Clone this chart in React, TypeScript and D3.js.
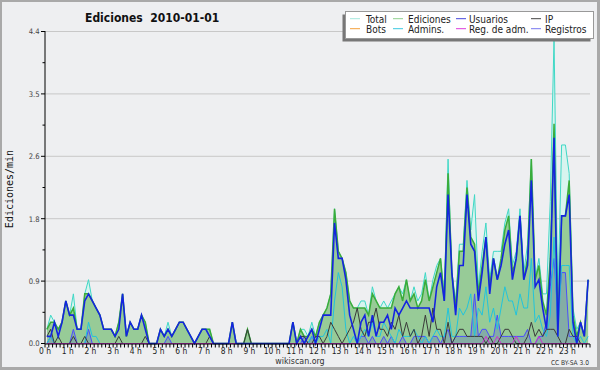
import React from 'react';
import * as d3 from 'd3';

// 10-minute bins, values in edits/min
const usuarios = [
  0.1, 0.1, 0.3, 0.1, 0.3, 0.6, // 0h
  0.4, 0.4, 0.2, 0.2, 0.6, 0.7, // 1h
  0.6, 0.5, 0.4, 0.2, 0.2, 0.2, // 2h
  0.1, 0.2, 0.7, 0.1, 0.3, 0.2, // 3h
  0.2, 0.4, 0.2, 0, 0, 0, // 4h
  0.2, 0.1, 0.2, 0.1, 0.2, 0.3, // 5h
  0.3, 0.2, 0.1, 0, 0.1, 0.2, // 6h
  0.2, 0.1, 0, 0, 0, 0, // 7h
  0, 0.3, 0, 0, 0, 0, // 8h
  0, 0, 0, 0, 0, 0, // 9h
  0, 0, 0, 0, 0, 0.3, // 10h
  0, 0.1, 0, 0.1, 0.2, 0, // 11h
  0.2, 0.4, 0.4, 0.4, 1.7, 1.2, // 12h
  1.2, 0.9, 0.4, 0.2, 0, 0.3, // 13h
  0.4, 0.1, 0.4, 0.1, 0.3, 0.3, // 14h
  0.4, 0.2, 0.5, 0.4, 0.5, 0.6, // 15h
  0.5, 0.5, 0.5, 0.5, 0.5, 0.5, // 16h
  0.3, 0.8, 1.0, 0.6, 2.1, 1.0, // 17h
  0.4, 1.1, 1.1, 2.1, 1.4, 1.3, // 18h
  0.6, 1.0, 1.5, 0.7, 1.2, 0.9, // 19h
  1.1, 1.4, 1.6, 0.9, 1.2, 1.8, // 20h
  0.9, 1.1, 2.3, 0.8, 0.9, 0.5, // 21h
  0.2, 1.0, 2.9, 0.1, 1.8, 1.8, // 22h
  2.1, 0.3, 0, 0.3, 0.1, 0.9 // 23h
];

const ip = [
  0.1, 0.2, 0, 0.1, 0, 0,
  0, 0.1, 0, 0, 0.1, 0,
  0, 0, 0, 0, 0, 0,
  0, 0.1, 0, 0, 0, 0,
  0, 0, 0.1, 0, 0, 0,
  0, 0, 0, 0, 0, 0,
  0, 0, 0, 0, 0, 0,
  0, 0.1, 0, 0, 0, 0,
  0, 0, 0, 0, 0, 0.2,
  0, 0, 0, 0, 0, 0,
  0, 0, 0, 0, 0, 0,
  0, 0.1, 0.1, 0, 0, 0.1,
  0.1, 0, 0.1, 0.3, 0.2, 0.1,
  0, 0.1, 0.2, 0.3, 0.5, 0.2,
  0.1, 0.3, 0.3, 0.5, 0.2, 0.2,
  0.1, 0.3, 0.2, 0.4, 0.1, 0.3,
  0.1, 0.2, 0, 0.1, 0.4, 0.1,
  0.5, 0.2, 0.2, 0, 0.3, 0,
  0.1, 0.2, 0.2, 0.1, 0.1, 0.1,
  0.1, 0.1, 0, 0.1, 0, 0,
  0.1, 0.2, 0.2, 0.1, 0, 0,
  0, 0.1, 0.3, 0.1, 0.2, 0.1,
  0.2, 0.2, 0.2, 0.1, 0, 0,
  0.2, 0.1, 0.1, 0, 0, 0
];

const ediciones = [
  0.2, 0.3, 0.3, 0.2, 0.3, 0.6,
  0.4, 0.5, 0.2, 0.2, 0.7, 0.7,
  0.6, 0.5, 0.4, 0.2, 0.2, 0.2,
  0.1, 0.3, 0.7, 0.1, 0.3, 0.2,
  0.2, 0.4, 0.3, 0, 0, 0,
  0.2, 0.1, 0.2, 0.1, 0.2, 0.3,
  0.3, 0.2, 0.1, 0, 0.1, 0.2,
  0.2, 0.2, 0, 0, 0, 0,
  0, 0.3, 0, 0, 0, 0.2,
  0, 0, 0, 0, 0, 0,
  0, 0, 0, 0, 0, 0.3,
  0, 0.2, 0.1, 0.1, 0.2, 0.1,
  0.3, 0.4, 0.5, 0.7, 1.9, 1.3,
  1.2, 1.0, 0.6, 0.5, 0.5, 0.5,
  0.5, 0.4, 0.7, 0.6, 0.5, 0.5,
  0.5, 0.5, 0.7, 0.8, 0.6, 0.9,
  0.6, 0.7, 0.5, 0.6, 0.9, 0.6,
  0.8, 1.0, 1.2, 0.6, 2.4, 1.0,
  0.5, 1.3, 1.3, 2.2, 1.5, 1.4,
  0.7, 1.1, 1.5, 0.8, 1.2, 0.9,
  1.2, 1.6, 1.8, 1.0, 1.2, 1.8,
  0.9, 1.2, 2.6, 0.9, 1.1, 0.6,
  0.4, 1.2, 3.1, 0.2, 1.8, 1.8,
  2.3, 0.4, 0.1, 0.3, 0.1, 0.9
];

const registros = [
  0, 0.1, 0, 0, 0, 0,
  0, 0.2, 0, 0, 0, 0.2,
  0, 0, 0, 0, 0, 0,
  0, 0, 0, 0, 0, 0,
  0, 0, 0, 0, 0, 0,
  0, 0, 0.1, 0, 0, 0,
  0, 0, 0, 0, 0, 0,
  0, 0, 0, 0, 0, 0,
  0, 0, 0, 0, 0, 0,
  0, 0, 0, 0, 0, 0,
  0, 0, 0, 0, 0, 0,
  0, 0, 0.1, 0, 0.1, 0,
  0, 0, 0, 0, 0, 0,
  0, 0, 0, 0, 0, 0.1,
  0.1, 0, 0.1, 0, 0, 0.1,
  0, 0.1, 0, 0, 0.1, 0,
  0, 0.1, 0.1, 0.1, 0.1, 0,
  0.1, 0.1, 0, 0.1, 0.2, 0,
  0.1, 0.1, 0.1, 0.1, 0.1, 0.7,
  0.1, 0.2, 0.2, 0.1, 0.1, 0.4,
  0.1, 0.1, 0.1, 0.1, 0.1, 0.1,
  0.1, 0.2, 0, 0, 0.1, 0.1,
  0.3, 0.8, 1.2, 0.4, 1.0, 1.0,
  0.1, 0.1, 0.1, 0, 0, 0
];

const total = [
  0.2, 0.4, 0.3, 0.2, 0.3, 0.6,
  0.4, 0.7, 0.2, 0.2, 0.7, 0.9,
  0.6, 0.5, 0.4, 0.2, 0.2, 0.2,
  0.1, 0.3, 0.7, 0.1, 0.3, 0.2,
  0.2, 0.4, 0.3, 0, 0, 0,
  0.2, 0.1, 0.3, 0.1, 0.2, 0.3,
  0.3, 0.2, 0.1, 0, 0.1, 0.2,
  0.2, 0.2, 0, 0, 0, 0,
  0, 0.3, 0, 0, 0, 0.2,
  0, 0, 0, 0, 0, 0,
  0, 0, 0, 0, 0, 0.3,
  0, 0.2, 0.2, 0.1, 0.3, 0.1,
  0.3, 0.4, 0.5, 0.7, 1.9, 1.3,
  1.2, 1.0, 0.6, 0.5, 0.5, 0.6,
  0.6, 0.4, 0.8, 0.6, 0.5, 0.6,
  0.5, 0.6, 0.7, 0.8, 0.7, 0.9,
  0.6, 0.8, 0.6, 0.7, 1.0, 0.6,
  0.9, 1.1, 1.2, 0.7, 2.6, 1.0,
  0.6, 1.4, 1.4, 2.3, 1.6, 2.1,
  0.8, 1.3, 1.7, 0.9, 1.3, 1.3,
  1.3, 1.7, 1.9, 1.1, 1.3, 1.9,
  1.0, 1.4, 2.6, 0.9, 1.2, 0.7,
  0.7, 2.0, 4.3, 0.6, 2.8, 2.8,
  2.4, 0.5, 0.2, 0.3, 0.1, 0.9
];

const admins = [
  0, 0.1, 0, 0, 0, 0,
  0, 0, 0, 0, 0, 0.3,
  0.1, 0.1, 0, 0, 0, 0,
  0, 0, 0, 0, 0, 0,
  0, 0, 0, 0, 0, 0,
  0, 0, 0, 0, 0, 0,
  0, 0, 0, 0, 0, 0,
  0, 0, 0, 0, 0, 0,
  0, 0, 0, 0, 0, 0,
  0, 0, 0, 0, 0, 0,
  0, 0, 0, 0, 0, 0,
  0, 0, 0, 0, 0.1, 0,
  0.1, 0.1, 0.2, 0, 0.6, 1.0,
  0.8, 0.2, 0, 0.1, 0, 0.1,
  0.2, 0.1, 0.3, 0.1, 0.1, 0.3,
  0.2, 0.1, 0, 0.2, 0.1, 0.1,
  0.1, 0.2, 0.1, 0, 0.1, 0,
  0.1, 0.2, 0.1, 0.1, 0.5, 0.1,
  0.1, 0.5, 0.4, 0.5, 0.7, 0.1,
  0.5, 0.4, 0.8, 0.3, 0.5, 0.2,
  0.5, 0.8, 0.6, 0.6, 0.4, 0.7,
  0.5, 0.5, 1.2, 0.3, 0.4, 0.2,
  0.1, 0.4, 1.5, 0.1, 1.1, 1.1,
  1.1, 0.1, 0, 0.1, 0, 0.1
];

const regAdm = [
  0, 0, 0, 0, 0, 0, 0, 0, 0, 0, 0, 0, 0, 0, 0, 0, 0, 0, 0, 0, 0, 0, 0, 0,
  0, 0, 0, 0, 0, 0, 0, 0, 0, 0, 0, 0, 0, 0, 0, 0, 0, 0, 0, 0, 0, 0, 0, 0,
  0, 0, 0, 0, 0, 0, 0, 0, 0, 0, 0, 0, 0, 0, 0, 0, 0, 0, 0, 0, 0, 0, 0, 0,
  0, 0, 0, 0, 0, 0, 0, 0, 0, 0, 0, 0, 0, 0, 0, 0, 0, 0, 0, 0, 0, 0, 0, 0,
  0, 0, 0, 0, 0, 0, 0, 0, 0, 0, 0, 0, 0, 0, 0, 0, 0, 0, 0, 0, 0.1, 0, 0, 0.1,
  0, 0, 0, 0, 0.1, 0, 0, 0, 0, 0, 0.1, 0, 0, 0, 0, 0, 0, 0, 0, 0, 0, 0, 0, 0
];

const hourLabels = [
  '0 h', '1 h', '2 h', '3 h', '4 h', '5 h', '6 h', '7 h', '8 h', '9 h', '10 h', '11 h',
  '12 h', '13 h', '14 h', '15 h', '16 h', '17 h', '18 h', '19 h', '20 h', '21 h', '22 h', '23 h'
];
const yTicks = [0, 0.88, 1.76, 2.64, 3.52, 4.4];

const legendRows = [
  [
    { name: 'Total', color: '#a6e8de' },
    { name: 'Ediciones', color: '#8fd08f' },
    { name: 'Usuarios', color: '#4646dc' },
    { name: 'IP', color: '#444444' }
  ],
  [
    { name: 'Bots', color: '#f4a03c' },
    { name: 'Admins.', color: '#3cc8e0' },
    { name: 'Reg. de adm.', color: '#dc3cdc' },
    { name: 'Registros', color: '#7878f0' }
  ]
];
const legendCols = [
  { sx: 350, tx: 366 },
  { sx: 393, tx: 408 },
  { sx: 456, tx: 469 },
  { sx: 531, tx: 545 }
];

const FONT = "'DejaVu Sans Condensed', 'DejaVu Sans', sans-serif";

export default function App() {
  const x = d3.scaleLinear().domain([0, 144]).range([45, 590]);
  const y = d3.scaleLinear().domain([0, 4.4]).range([343.5, 31.5]);

  const px = (_d: number, i: number) => x(i + 0.5);
  const line = (vals: number[]) => d3.line<number>().x(px).y((d) => y(d))(vals) || '';
  const area = (vals: number[]) =>
    d3.area<number>().x(px).y0(y(0)).y1((d) => y(d))(vals) || '';

  const minorY = d3.range(0.44, 4.4, 0.88);

  return (
    <svg
      width={600}
      height={370}
      style={{ position: 'absolute', left: 0, top: 0, fontFamily: FONT, fontStretch: 'condensed' }}
    >
      <rect x={0} y={0} width={600} height={370} fill="#a9a9a9" />
      <rect x={2} y={2} width={595} height={365} fill="#eeeff1" />

      {/* grid */}
      {yTicks.slice(1).map((t) => (
        <line key={t} x1={45} x2={590} y1={y(t)} y2={y(t)} stroke="#c8c8c8" strokeWidth={1} />
      ))}

      {/* series */}
      <path d={area(total)} fill="#d8f4ef" />
      <path d={line(total)} fill="none" stroke="#3fd8c6" strokeWidth={1} />
      <path d={area(ediciones)} fill="#97cb97" />
      <path d={line(ediciones)} fill="none" stroke="#3aac3a" strokeWidth={1.5} />
      <path d={area(registros)} fill="rgba(70,70,220,0.22)" />
      <path d={line(registros)} fill="none" stroke="#4a4cff" strokeWidth={1} />
      <path d={line(admins)} fill="none" stroke="#22c4dc" strokeWidth={1} />
      <path d={line(ip)} fill="none" stroke="#3a3a3a" strokeWidth={1} />
      <path d={line(regAdm)} fill="none" stroke="#d030d0" strokeWidth={1} />
      <path d={line(usuarios)} fill="none" stroke="#1424e0" strokeWidth={1.6} />

      {/* y axis */}
      <line x1={45} x2={45} y1={31} y2={344} stroke="#000" />
      {yTicks.map((t) => (
        <g key={t}>
          <line x1={41} x2={45} y1={y(t)} y2={y(t)} stroke="#000" />
          <text x={39.5} y={y(t) + 2.8} textAnchor="end" fontSize={7.6} fill="#444">
            {d3.format('.1f')(t)}
          </text>
        </g>
      ))}
      {minorY.map((t) => (
        <line key={t} x1={42.5} x2={45} y1={y(t)} y2={y(t)} stroke="#000" />
      ))}

      {/* x axis */}
      <line x1={45} x2={590} y1={344} y2={344} stroke="#000" />
      {d3.range(0, 145).map((k) => (
        <line key={k} x1={x(k)} x2={x(k)} y1={344} y2={347.5} stroke="#000" />
      ))}
      {hourLabels.map((h, k) => (
        <text key={h} x={x(k * 6)} y={353.5} textAnchor="middle" fontSize={8.4} fill="#222">
          {h}
        </text>
      ))}

      {/* titles */}
      <text x={85} y={21.5} fontSize={12} fontWeight="bold" fill="#111">
        Ediciones{'\u00a0\u00a0'}2010-01-01
      </text>
      <text
        transform="translate(13,189) rotate(-90)"
        textAnchor="middle"
        fontSize={10}
        fontFamily="'DejaVu Sans Mono', monospace"
        fill="#111"
      >
        Ediciones/min
      </text>
      <text x={300} y={363.5} textAnchor="middle" fontSize={8.8} fill="#333">
        wikiscan.org
      </text>
      <text x={589} y={364.5} textAnchor="end" fontSize={6.6} fill="#333">
        CC BY-SA 3.0
      </text>

      {/* legend */}
      <rect x={342.5} y={14.5} width={248} height={27} fill="#777" />
      <rect x={345.5} y={11.5} width={248} height={27} fill="#fff" stroke="#999" />
      {legendRows.map((row, r) =>
        row.map((it, c) => (
          <g key={it.name}>
            <line
              x1={legendCols[c].sx}
              x2={legendCols[c].sx + 10}
              y1={18.7 + r * 10}
              y2={18.7 + r * 10}
              stroke={it.color}
              strokeWidth={1}
            />
            <text x={legendCols[c].tx} y={22.5 + r * 10} fontSize={10} fill="#222">
              {it.name}
            </text>
          </g>
        ))
      )}
    </svg>
  );
}
